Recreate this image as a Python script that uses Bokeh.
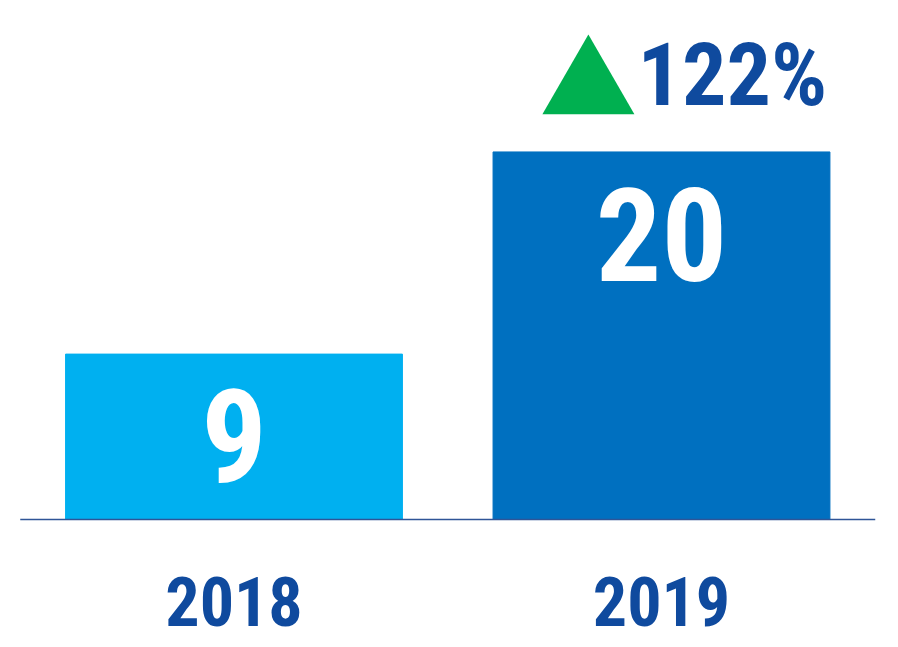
from bokeh.plotting import figure
from bokeh.models import Range1d, ColumnDataSource
from bokeh.core.properties import value
from bokeh.embed import file_html
from bokeh.resources import INLINE

years = ["2018", "2019"]
values = [9, 20]
bar_colors = ["#00B0F0", "#0070C0"]
growth_label = "122%"

FONT = "'Roboto Condensed', 'Open Sans Condensed', 'DejaVu Sans Condensed', sans-serif"
TEXT_BLUE = "#0F4A9E"

xs = list(range(len(years)))
src = ColumnDataSource(dict(
    x=xs, top=values, color=bar_colors,
    label=[str(v) for v in values], year=years,
    label_y=[values[0] / 2 + 0.05, values[1] - 4.47],
))

p = figure(width=898, height=647, output_backend="svg", toolbar_location=None,
           x_range=Range1d(-0.5462, 1.5544), y_range=Range1d(-6.964, 28.24),
           min_border=0, outline_line_color=None)
p.axis.visible = False
p.grid.visible = False
p.background_fill_color = "white"
p.border_fill_color = "white"

p.vbar(x="x", top="top", bottom=0, width=0.788, color="color", source=src)

# baseline
p.line(x=[xs[0] - 0.5, xs[-1] + 0.5], y=[0, 0], line_color="#2F5597", line_width=1.5)

# value labels inside bars
p.text(x="x", y="label_y", text="label", source=src, text_color="white",
       text_font=value(FONT), text_font_style="bold", text_font_size="130px",
       text_align="center", text_baseline="middle")

# year labels
p.text(x="x", y=-4.46, text="year", source=src, text_color=TEXT_BLUE,
       text_font=value(FONT), text_font_style="bold", text_font_size="68px",
       text_align="center", text_baseline="middle")

# growth indicator
p.scatter(x=[xs[1] - 0.171], y=[values[1] + 3.5], marker="triangle", size=92,
          fill_color="#00B050", line_color=None)
p.text(x=[xs[1] - 0.056], y=[values[1] + 4.24], text=[growth_label],
       text_color=TEXT_BLUE, text_font=value(FONT), text_font_style="bold",
       text_font_size="88px", text_align="left", text_baseline="middle")

open("out.html", "w").write(file_html(p, INLINE))
